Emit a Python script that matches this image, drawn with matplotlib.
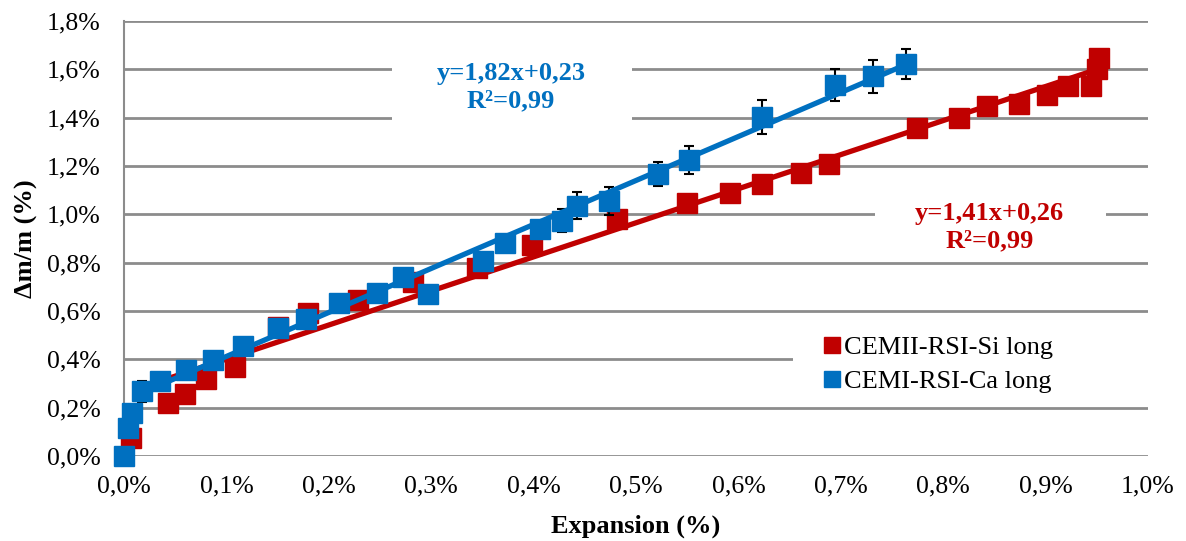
import numpy as np
import matplotlib.pyplot as plt
from matplotlib.patches import Rectangle

plt.rcParams['font.family'] = ['Liberation Serif', 'DejaVu Serif']

# CEMII-RSI-Si long (red), values in %
si_x = [0.007, 0.043, 0.060, 0.080, 0.108, 0.150, 0.180, 0.229, 0.282, 0.345,
        0.398, 0.481, 0.550, 0.592, 0.623, 0.661, 0.688, 0.774, 0.815, 0.843,
        0.874, 0.901, 0.922, 0.944, 0.950, 0.952]
si_y = [0.075, 0.220, 0.257, 0.318, 0.370, 0.532, 0.590, 0.645, 0.720, 0.780,
        0.875, 0.980, 1.047, 1.090, 1.125, 1.170, 1.210, 1.357, 1.398, 1.448,
        1.456, 1.494, 1.530, 1.530, 1.600, 1.647]

# CEMI-RSI-Ca long (blue), values in %
ca_x = [0.000, 0.004, 0.008, 0.018, 0.035, 0.061, 0.087, 0.116, 0.150, 0.178,
        0.210, 0.247, 0.272, 0.297, 0.351, 0.372, 0.406, 0.428, 0.442, 0.474,
        0.521, 0.552, 0.623, 0.694, 0.731, 0.764]
ca_y = [0.000, 0.115, 0.177, 0.268, 0.310, 0.356, 0.397, 0.455, 0.530, 0.567,
        0.635, 0.674, 0.740, 0.670, 0.807, 0.880, 0.940, 0.973, 1.035, 1.055,
        1.167, 1.225, 1.403, 1.535, 1.572, 1.622]
ca_err = [0.0, 0.0, 0.0, 0.043, 0.0, 0.0, 0.0, 0.0, 0.0, 0.0,
          0.0, 0.0, 0.0, 0.0, 0.0, 0.0, 0.03, 0.048, 0.056, 0.058,
          0.050, 0.058, 0.070, 0.068, 0.068, 0.062]

# trend lines
si_fit = (1.41, 0.26)
ca_fit = (1.82, 0.23)
si_range = [0.04, 0.952]
ca_range = [0.02, 0.764]

RED = '#C00000'
BLUE = '#0070C0'
GRID = '#8C8C8C'
FS = 19

fig = plt.figure(figsize=(11.86, 5.41), dpi=100)
ax = fig.add_axes([124 / 1186, 1 - 456 / 541, 1024 / 1186, 435 / 541])

ax.set_xlim(0, 1.0)
ax.set_ylim(0, 1.8)
yt = np.arange(0, 1.81, 0.2)
xt = np.arange(0, 1.01, 0.1)
ax.set_yticks(yt)
ax.set_xticks(xt)
ax.set_yticklabels([f'{v:.1f}%'.replace('.', ',') for v in yt])
ax.set_xticklabels([f'{v:.1f}%'.replace('.', ',') for v in xt])
ax.grid(axis='y', color=GRID, linewidth=2)
ax.set_axisbelow(True)
for s in ['top', 'right', 'bottom']:
    ax.spines[s].set_visible(False)
ax.spines['left'].set_color(GRID)
ax.spines['left'].set_linewidth(1.5)
ax.tick_params(axis='both', length=0, labelsize=18.5)
ax.tick_params(axis='y', pad=17)
ax.tick_params(axis='x', pad=14)

# white boxes behind the labels and legend (hide gridlines)
for (x0, x1, y0, y1) in [(0.262, 0.496, 1.37, 1.68), (0.733, 0.959, 0.83, 1.08),
                         (0.653, 1.0, 0.232, 0.571)]:
    ax.add_patch(Rectangle((x0, y0), x1 - x0, y1 - y0, facecolor='white',
                           edgecolor='none', zorder=1))

# data
ax.plot(si_x, si_y, 's', color=RED, markersize=14, zorder=3, clip_on=False,
        label='CEMII-RSI-Si long')
ax.errorbar(ca_x, ca_y, yerr=ca_err, fmt='none', ecolor='black', elinewidth=1.5,
            capsize=3.5, capthick=1.5, zorder=3.5)
ax.plot(ca_x, ca_y, 's', color=BLUE, markersize=14, zorder=4, clip_on=False,
        label='CEMI-RSI-Ca long')

xs = np.array(si_range)
ax.plot(xs, si_fit[0] * xs + si_fit[1], color=RED, linewidth=3.8, zorder=3.2,
        solid_capstyle='butt')
xc = np.array(ca_range)
ax.plot(xc, ca_fit[0] * xc + ca_fit[1], color=BLUE, linewidth=3.8, zorder=4.2,
        solid_capstyle='butt')

ax.text(0.378, 1.525, 'y=1,82x+0,23\nR²=0,99', color=BLUE, fontsize=FS,
        fontweight='bold', ha='center', va='center', linespacing=1.25, zorder=2)
ax.text(0.845, 0.948, 'y=1,41x+0,26\nR²=0,99', color=RED, fontsize=FS,
        fontweight='bold', ha='center', va='center', linespacing=1.25, zorder=2)

leg = ax.legend(loc='upper left', bbox_to_anchor=(0.684, 0.277), frameon=False,
                fontsize=FS, handlelength=0.6, handletextpad=0.15,
                borderaxespad=0, borderpad=0, labelspacing=0.4, markerscale=0.85)

ax.set_xlabel('Expansion (%)', fontsize=FS, fontweight='bold', labelpad=12)
ax.set_ylabel('Δm/m (%)', fontsize=FS, fontweight='bold', labelpad=6)

fig.savefig('out.png', dpi=100)
